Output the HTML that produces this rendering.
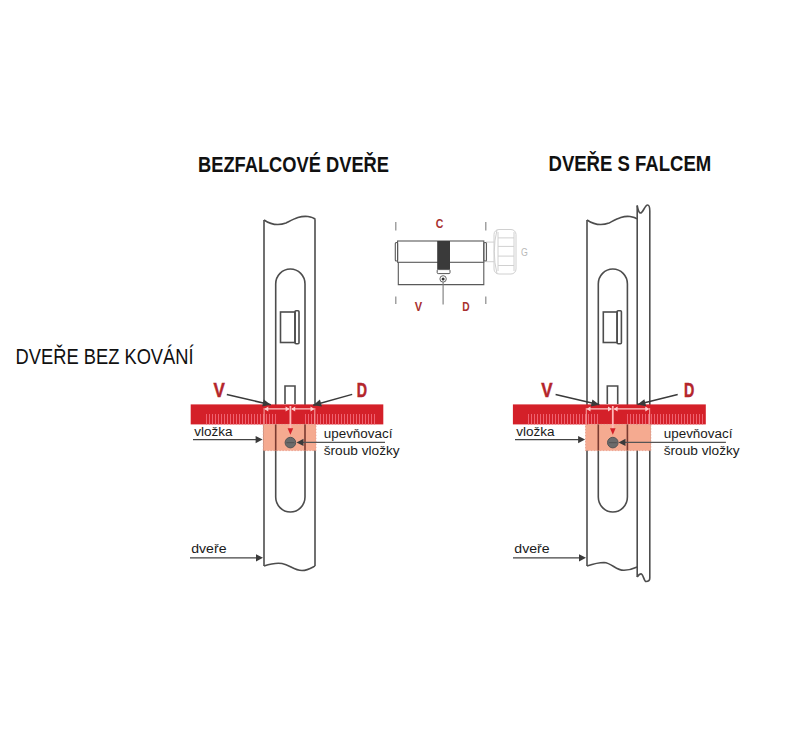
<!DOCTYPE html>
<html><head><meta charset="utf-8">
<style>
html,body{margin:0;padding:0;background:#fff;}
body{width:800px;height:738px;overflow:hidden;position:relative;}
svg{position:absolute;left:0;top:0;}
text{font-family:"Liberation Sans",sans-serif;}
</style></head>
<body>
<svg width="800" height="738" viewBox="0 0 800 738">
<text x="198" y="172" font-size="21.8" font-weight="bold" fill="#111" textLength="191" lengthAdjust="spacingAndGlyphs">BEZFALCOVÉ DVEŘE</text>
<text x="548.5" y="171" font-size="21.8" font-weight="bold" fill="#111" textLength="162.7" lengthAdjust="spacingAndGlyphs">DVEŘE S FALCEM</text>
<text x="15.6" y="364" font-size="21.8" fill="#111" textLength="178" lengthAdjust="spacingAndGlyphs">DVEŘE BEZ KOVÁNÍ</text>

<g fill="none" stroke="#4d4d4d" stroke-width="1.6">
  <path d="M264,220 C270,224 278,226 286,223 C294,219 300,215.5 308,216.5 C312,217 314,218 315.5,219.5"/>
  <line x1="264" y1="220" x2="264" y2="566"/>
  <line x1="315" y1="219.5" x2="315" y2="566"/>
  <path d="M264,566 C270,564 276,562.5 282,563.5 C290,565 294,570.5 302,570.5 C308,570.5 312,567.5 315,566"/>
  <path d="M275.7,497 L275.7,284 A14.65,15 0 0 1 305,284 L305,497 A14.65,15 0 0 1 275.7,497 Z"/>
  <rect x="280.5" y="312" width="14.5" height="30.5"/>
  <rect x="295" y="310.8" width="4" height="33" rx="1"/>
  <path d="M285,404 L285,386 L295,386 L295,404"/>
</g>

<g fill="none" stroke="#4d4d4d" stroke-width="1.6">
  <path d="M587,220 C593,224 601,226 609,223 C617,219 623,215.5 630,216.5 C634,217 636,218 637,219"/>
  <line x1="587" y1="220" x2="587" y2="566"/>
  <line x1="637.2" y1="205.5" x2="637.2" y2="577"/>
  <line x1="649.8" y1="211" x2="649.8" y2="578"/>
  <path d="M637.2,205.5 C638,210 639,213 640.5,213 C643,213 645,205 647.5,205 C649.3,205 649.8,208 649.8,211"/>
  <path d="M587,566 C593,564 598,562.5 604,562.5 C612,563 616,570.5 624,570.3 C630,570 634,568.5 637.2,567"/>
  <path d="M637.2,577 C638.5,575 640,573.5 641.5,574 C643.5,575 644,581.5 646,581.5 C648.5,581.5 649.8,580 649.8,578"/>
  <path d="M598.3,497 L598.3,284 A14.55,15 0 0 1 627.4,284 L627.4,497 A14.55,15 0 0 1 598.3,497 Z"/>
  <rect x="603.3" y="312" width="13.8" height="30.5"/>
  <rect x="617.1" y="310.8" width="4.3" height="33" rx="1"/>
  <path d="M607.3,404 L607.3,386 L617.7,386 L617.7,404"/>
</g>


<g id="cyl">
  <path d="M395.8,222V230.5M485.8,222V230.5M395.8,296.5V304M485.8,296.5V304" stroke="#8a8a8a" stroke-width="1.2"/>
  <text x="435.8" y="227.6" font-size="12.6" font-weight="bold" fill="#a8302f" textLength="7.6" lengthAdjust="spacingAndGlyphs">C</text>
  <text x="414.8" y="310.6" font-size="12.8" font-weight="bold" fill="#a8302f" textLength="7.4" lengthAdjust="spacingAndGlyphs">V</text>
  <text x="462.2" y="310.6" font-size="12.8" font-weight="bold" fill="#a8302f" textLength="7.4" lengthAdjust="spacingAndGlyphs">D</text>
  <text x="521" y="255.6" font-size="10.5" fill="#b8b8b8" textLength="6.8" lengthAdjust="spacingAndGlyphs">G</text>
  <g fill="none" stroke="#d0d0d0" stroke-width="1">
    <rect x="486.6" y="242.1" width="9" height="19.6"/>
    <rect x="494" y="229.5" width="22" height="44.5" rx="5" fill="#fff"/>
    <path d="M497,229.8Q491.5,251.75 497,273.7"/>
    <path d="M498,232V271M514,232V271"/>
    <path d="M498,237.9H514M498,246.4H514M498,256.1H514M498,265.5H514"/>
  </g>
  <g fill="none" stroke="#595959" stroke-width="1.1">
    <rect x="397.6" y="241" width="86.2" height="21.3"/>
    <rect x="395.3" y="242.5" width="2.3" height="18.5" rx="1"/>
    <rect x="483.8" y="242.5" width="2.6" height="18.5" rx="1"/>
    <path d="M398.3,262.3V284.6H483.8V262.3"/>
  </g>
  <rect x="437.2" y="241" width="12.8" height="28.8" fill="#3a3a3a"/>
  <rect x="437.2" y="269.6" width="12.8" height="4" rx="1" fill="#fff" stroke="#555" stroke-width="1"/>
  <circle cx="443.1" cy="278.9" r="3.2" fill="#fff" stroke="#666" stroke-width="1"/>
  <circle cx="443.1" cy="278.9" r="1.5" fill="#333"/>
  <path d="M443.1,282.1V304.5" stroke="#7a7a7a" stroke-width="1.1"/>
</g>

<rect x="190.7" y="404.4" width="192.6" height="20" fill="#d42029"/>
<path d="M206.5,414V424.4M209.5,414V424.4M212.5,414V424.4M215.5,414V424.4M218.5,414V424.4M221.5,414V424.4M224.5,414V424.4M227.5,414V424.4M230.5,414V424.4M233.5,414V424.4M236.5,414V424.4M239.5,414V424.4M242.5,414V424.4M245.5,414V424.4M248.5,414V424.4M251.5,414V424.4M254.5,414V424.4M257.5,414V424.4M260.5,414V424.4M263.5,414V424.4M266.5,414V424.4M269.5,414V424.4M272.5,414V424.4M275.5,414V424.4M305.5,414V424.4M308.5,414V424.4M311.5,414V424.4M314.5,414V424.4M317.5,414V424.4M320.5,414V424.4M323.5,414V424.4M326.5,414V424.4M329.5,414V424.4M332.5,414V424.4M335.5,414V424.4M338.5,414V424.4M341.5,414V424.4M344.5,414V424.4M347.5,414V424.4M350.5,414V424.4M353.5,414V424.4M356.5,414V424.4M359.5,414V424.4M362.5,414V424.4M365.5,414V424.4M368.5,414V424.4M371.5,414V424.4M374.5,414V424.4" stroke="#ef6270" stroke-width="1"/>
<rect x="263.3" y="424.4" width="52.7" height="26.2" fill="#f5aa90" stroke="#e89a88" stroke-width="0.8" stroke-dasharray="1.5,1.5"/>
<path d="M275.7,424.4V450.6M305,424.4V450.6" stroke="#7a3a30" stroke-width="1.6"/>
<path d="M264.1,408V424.4M314.8,408V424.4" stroke="#f59a9a" stroke-width="1.1"/>
<path d="M265.3,408.9H288.9M291.9,408.9H313.5" stroke="#ffc8c8" stroke-width="1.3"/>
<path d="M264.3,408.9l4,-2.5v5zM289.59999999999997,408.9l-4,-2.5v5zM291.2,408.9l4,-2.5v5zM314.5,408.9l-4,-2.5v5z" fill="#ffd0d0"/>
<path d="M290.4,406V429" stroke="#ffb8b8" stroke-width="1.8"/>
<path d="M287.59999999999997,428.3L293.2,428.3L290.4,434.8Z" fill="#d42029"/>
<circle cx="290.4" cy="442.6" r="5.3" fill="#6b6b6b" stroke="#555" stroke-width="1"/>
<path d="M286.4,442.6H294.4" stroke="#555" stroke-width="1.2"/>
<rect x="512.9" y="404.4" width="192.9" height="20" fill="#d42029"/>
<path d="M528.5,414V424.4M531.5,414V424.4M534.5,414V424.4M537.5,414V424.4M540.5,414V424.4M543.5,414V424.4M546.5,414V424.4M549.5,414V424.4M552.5,414V424.4M555.5,414V424.4M558.5,414V424.4M561.5,414V424.4M564.5,414V424.4M567.5,414V424.4M570.5,414V424.4M573.5,414V424.4M576.5,414V424.4M579.5,414V424.4M582.5,414V424.4M585.5,414V424.4M588.5,414V424.4M591.5,414V424.4M594.5,414V424.4M597.5,414V424.4M627.5,414V424.4M630.5,414V424.4M633.5,414V424.4M636.5,414V424.4M639.5,414V424.4M642.5,414V424.4M645.5,414V424.4M648.5,414V424.4M651.5,414V424.4M654.5,414V424.4M657.5,414V424.4M660.5,414V424.4M663.5,414V424.4M666.5,414V424.4M669.5,414V424.4M672.5,414V424.4M675.5,414V424.4M678.5,414V424.4M681.5,414V424.4M684.5,414V424.4M687.5,414V424.4M690.5,414V424.4M693.5,414V424.4M696.5,414V424.4M699.5,414V424.4M702.5,414V424.4" stroke="#ef6270" stroke-width="1"/>
<rect x="585.5" y="424.4" width="65.3" height="26.2" fill="#f5aa90" stroke="#e89a88" stroke-width="0.8" stroke-dasharray="1.5,1.5"/>
<path d="M598.3,424.4V450.6M627.4,424.4V450.6" stroke="#7a3a30" stroke-width="1.6"/>
<path d="M586.3,408V424.4M649.5999999999999,408V424.4" stroke="#f59a9a" stroke-width="1.1"/>
<path d="M587.5,408.9H611.3M614.3,408.9H648.3" stroke="#ffc8c8" stroke-width="1.3"/>
<path d="M586.5,408.9l4,-2.5v5zM612.0,408.9l-4,-2.5v5zM613.5999999999999,408.9l4,-2.5v5zM649.3,408.9l-4,-2.5v5z" fill="#ffd0d0"/>
<path d="M612.8,406V429" stroke="#ffb8b8" stroke-width="1.8"/>
<path d="M610.0,428.3L615.5999999999999,428.3L612.8,434.8Z" fill="#d42029"/>
<circle cx="612.8" cy="442.6" r="5.3" fill="#6b6b6b" stroke="#555" stroke-width="1"/>
<path d="M608.8,442.6H616.8" stroke="#555" stroke-width="1.2"/>
<text x="213.6" y="396.8" font-size="20.6" font-weight="bold" fill="#b4252b" stroke="#b4252b" stroke-width="0.5" textLength="11.3" lengthAdjust="spacingAndGlyphs">V</text>
<text x="356.7" y="396.8" font-size="20.6" font-weight="bold" fill="#b4252b" stroke="#b4252b" stroke-width="0.5" textLength="10.3" lengthAdjust="spacingAndGlyphs">D</text>
<path d="M226.8,394.5L270.8,404.8" stroke="#3a3a3a" stroke-width="1.5"/>
<path d="M270.80,404.80L262.19,406.48L263.83,399.47Z" fill="#3a3a3a"/>
<path d="M352.2,394.4L313.2,405.2" stroke="#3a3a3a" stroke-width="1.5"/>
<path d="M313.20,405.20L319.95,399.60L321.87,406.53Z" fill="#3a3a3a"/>
<text x="194.2" y="435.5" font-size="13.7" fill="#1a1a1a" textLength="38.3" lengthAdjust="spacingAndGlyphs">vložka</text>
<path d="M193,439.6H256.6" stroke="#444" stroke-width="1.3"/>
<path d="M262.60,439.60L255.60,443.20L255.60,436.00Z" fill="#3a3a3a"/>
<text x="323.7" y="437.6" font-size="13.7" fill="#1a1a1a" textLength="68.8" lengthAdjust="spacingAndGlyphs">upevňovací</text>
<text x="323.7" y="455.2" font-size="13.7" fill="#1a1a1a" textLength="76" lengthAdjust="spacingAndGlyphs">šroub vložky</text>
<path d="M302.5,442.4H385" stroke="#555" stroke-width="1.2"/>
<path d="M296.50,442.40L303.50,438.80L303.50,446.00Z" fill="#3a3a3a"/>
<text x="191.2" y="553" font-size="13.7" fill="#1a1a1a" textLength="35.3" lengthAdjust="spacingAndGlyphs">dveře</text>
<path d="M190,557.8H257" stroke="#444" stroke-width="1.3"/>
<path d="M263.00,557.80L256.00,561.40L256.00,554.20Z" fill="#3a3a3a"/>
<text x="541.3" y="396.8" font-size="20.6" font-weight="bold" fill="#b4252b" stroke="#b4252b" stroke-width="0.5" textLength="11.3" lengthAdjust="spacingAndGlyphs">V</text>
<text x="683.9" y="397" font-size="20.6" font-weight="bold" fill="#b4252b" stroke="#b4252b" stroke-width="0.5" textLength="10.3" lengthAdjust="spacingAndGlyphs">D</text>
<path d="M555.6,394.4L599.4,404.8" stroke="#3a3a3a" stroke-width="1.5"/>
<path d="M599.40,404.80L590.78,406.45L592.45,399.45Z" fill="#3a3a3a"/>
<path d="M677.7,394.5L637.5,404.6" stroke="#3a3a3a" stroke-width="1.5"/>
<path d="M637.50,404.60L644.38,399.16L646.14,406.14Z" fill="#3a3a3a"/>
<text x="516.3" y="435.5" font-size="13.7" fill="#1a1a1a" textLength="38.3" lengthAdjust="spacingAndGlyphs">vložka</text>
<path d="M515,439.6H579.1" stroke="#444" stroke-width="1.3"/>
<path d="M585.10,439.60L578.10,443.20L578.10,436.00Z" fill="#3a3a3a"/>
<text x="663.7" y="437.6" font-size="13.7" fill="#1a1a1a" textLength="68.8" lengthAdjust="spacingAndGlyphs">upevňovací</text>
<text x="663.7" y="455.2" font-size="13.7" fill="#1a1a1a" textLength="76" lengthAdjust="spacingAndGlyphs">šroub vložky</text>
<path d="M624.5,442.4H725.9" stroke="#555" stroke-width="1.2"/>
<path d="M618.50,442.40L625.50,438.80L625.50,446.00Z" fill="#3a3a3a"/>
<text x="514.3" y="553" font-size="13.7" fill="#1a1a1a" textLength="35.3" lengthAdjust="spacingAndGlyphs">dveře</text>
<path d="M513,557.8H580" stroke="#444" stroke-width="1.3"/>
<path d="M586.00,557.80L579.00,561.40L579.00,554.20Z" fill="#3a3a3a"/>
</svg>
</body></html>
